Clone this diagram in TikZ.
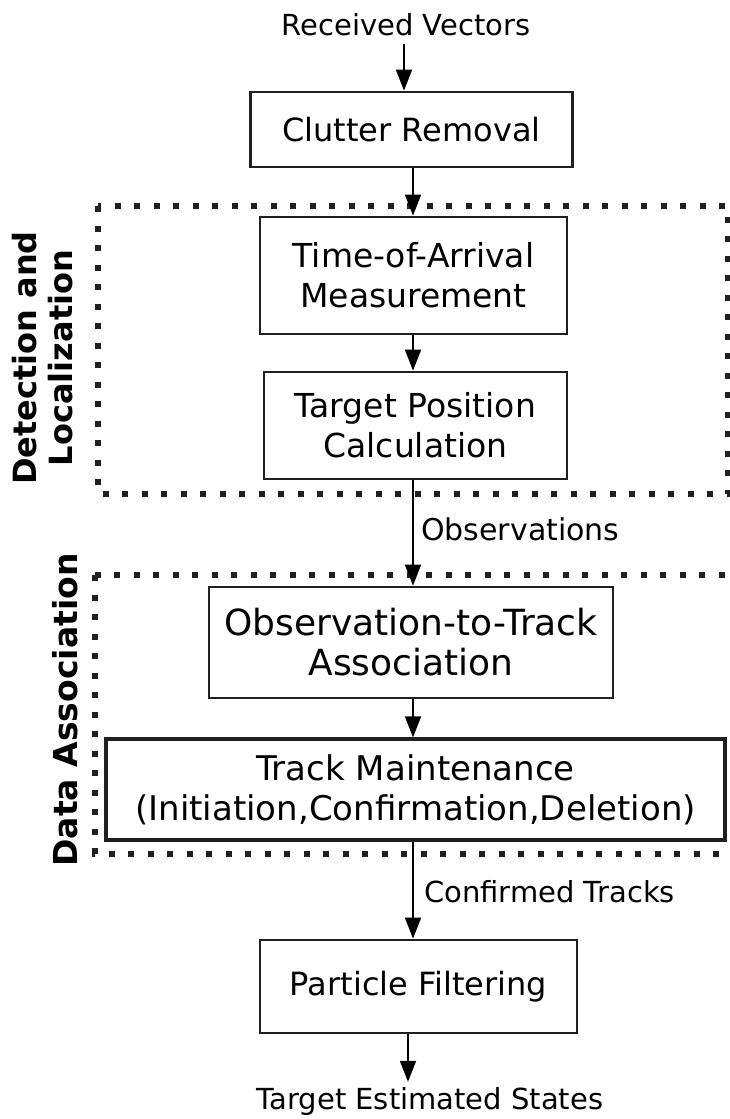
\documentclass[tikz,border=0pt]{standalone}
\usepackage{fontspec}
\setmainfont{DejaVu Sans}
\usetikzlibrary{arrows.meta}
\definecolor{ink}{HTML}{231F20}
\tikzset{
  box/.style={draw=ink, line width=2.8pt, inner sep=0pt, align=center,
    font=\fontsize{32}{39}\selectfont},
  flow/.style={line width=1.8pt, -{Triangle[length=21pt,width=16pt]}},
  lbl/.style={inner sep=0pt, font=\fontsize{29}{34}\selectfont},
  grp/.style={draw=ink, line width=6pt, dash pattern=on 6pt off 13.5pt},
  side/.style={inner sep=0pt, rotate=90, align=center,
    font=\fontsize{32}{36}\selectfont\bfseries}
}
\begin{document}
\begin{tikzpicture}[x=1pt,y=-1pt]
\useasboundingbox (0,0) rectangle (730,1119);
\coordinate (spine) at (413,0);

% grouping frames
\draw[grp] (98,206) rectangle (728,494);
\draw[grp] (95,575) rectangle (745,854);

% processing stages
\node[box, minimum width=322pt, minimum height=75pt] (cr) at (411.5,129.5) {Clutter Removal};
\node[box, font=\fontsize{33}{40}\selectfont, minimum width=307pt, minimum height=117pt] (toa) at (413.5,275.5) {Time-of-Arrival\\Measurement};
\node[box, font=\fontsize{33}{40}\selectfont, minimum width=303pt, minimum height=107pt] (tpc) at (415.5,425.5) {Target Position\\Calculation};
\node[box, font=\fontsize{36}{40}\selectfont, minimum width=404pt, minimum height=111pt] (ota) at (411,642.5) {Observation-to-Track\\Association};
\node[box, font=\fontsize{34}{40}\selectfont, line width=3.3pt, minimum width=619pt, minimum height=101pt] (tm) at (415.5,789.5) {Track Maintenance\\(Initiation,Confirmation,Deletion)};
\node[box, minimum width=317pt, minimum height=93pt] (pf) at (418.5,986.5) {Particle Filtering};

% inputs and outputs
\node[lbl, anchor=base] (rv) at (406,35) {Received Vectors};
\node[lbl, anchor=base] (tes) at (430,1109) {Target Estimated States};
\node[lbl, font=\fontsize{30}{34}\selectfont, anchor=base west] (obs) at (421,540) {Observations};
\node[lbl, anchor=base west] (ct) at (424,902) {Confirmed Tracks};

% group titles
\node[side] (dl) at (43,358) {Detection and\\Localization};
\node[side, font=\fontsize{33}{38}\selectfont\bfseries] (da) at (65,710) {Data Association};

% connectors
\draw[flow] ([yshift=-8pt]rv.south -| 404,0) -- (cr.north -| 404,0);
\draw[flow] (cr.south -| spine) -- (toa.north -| spine);
\draw[flow] (toa.south -| spine) -- (tpc.north -| spine);
\draw[flow] (tpc.south -| spine) -- (ota.north -| spine);
\draw[flow] (ota.south -| spine) -- (tm.north -| spine);
\draw[flow] (tm.south -| spine) -- (pf.north -| spine);
\draw[flow] (pf.south -| 408,0) -- ([yshift=5pt]tes.north -| 408,0);
\end{tikzpicture}
\end{document}
